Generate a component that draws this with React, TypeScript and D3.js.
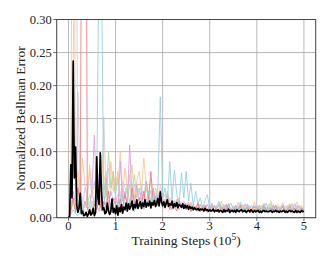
import * as d3 from "d3";

// logging steps for the per-seed curves, in thousands of env steps
const steps = [
  0, 5, 10, 15, 20, 25, 30, 35, 40, 45, 50, 55, 60, 65, 70, 75, 80, 85, 90, 95,
  100, 105, 110, 115, 120, 125, 130, 135, 140, 145, 150, 155, 160, 165, 170, 175, 180, 185, 190, 195,
  200, 205, 210, 215, 220, 225, 230, 235, 240, 245, 250, 255, 260, 265, 270, 275, 280, 285, 290, 295,
  300, 305, 310, 315, 320, 325, 330, 335, 340, 345, 350, 355, 360, 365, 370, 375, 380, 385, 390, 395,
  400, 405, 410, 415, 420, 425, 430, 435, 440, 445, 450, 455, 460, 465, 470, 475, 480, 485, 490, 495, 500,
];

// mean curve is logged twice as often
const meanSteps = [
  0, 2.5, 5, 7.5, 10, 12.5, 15, 17.5, 20, 22.5, 25, 27.5, 30, 32.5, 35, 37.5, 40, 42.5, 45, 47.5,
  50, 52.5, 55, 57.5, 60, 62.5, 65, 67.5, 70, 72.5, 75, 77.5, 80, 82.5, 85, 87.5, 90, 92.5, 95, 97.5,
  100, 102.5, 105, 107.5, 110, 112.5, 115, 117.5, 120, 122.5, 125, 127.5, 130, 132.5, 135, 137.5, 140, 142.5, 145, 147.5,
  150, 152.5, 155, 157.5, 160, 162.5, 165, 167.5, 170, 172.5, 175, 177.5, 180, 182.5, 185, 187.5, 190, 192.5, 195, 197.5,
  200, 202.5, 205, 207.5, 210, 212.5, 215, 217.5, 220, 222.5, 225, 227.5, 230, 232.5, 235, 237.5, 240, 242.5, 245, 247.5,
  250, 252.5, 255, 257.5, 260, 262.5, 265, 267.5, 270, 272.5, 275, 277.5, 280, 282.5, 285, 287.5, 290, 292.5, 295, 297.5,
  300, 302.5, 305, 307.5, 310, 312.5, 315, 317.5, 320, 322.5, 325, 327.5, 330, 332.5, 335, 337.5, 340, 342.5, 345, 347.5,
  350, 352.5, 355, 357.5, 360, 362.5, 365, 367.5, 370, 372.5, 375, 377.5, 380, 382.5, 385, 387.5, 390, 392.5, 395, 397.5,
  400, 402.5, 405, 407.5, 410, 412.5, 415, 417.5, 420, 422.5, 425, 427.5, 430, 432.5, 435, 437.5, 440, 442.5, 445, 447.5,
  450, 452.5, 455, 457.5, 460, 462.5, 465, 467.5, 470, 472.5, 475, 477.5, 480, 482.5, 485, 487.5, 490, 492.5, 495, 497.5, 500,
];

// per-seed normalized bellman error, in units of 1e-3
const seedLavender = [
  0, 40, 150, 800, 30, 60, 20, 45, 35, 70,
  30, 55, 25, 65, 40, 50, 35, 75, 45, 60,
  40, 70, 30, 55, 45, 35, 65, 25, 50, 40,
  35, 50, 28, 45, 32, 40, 25, 38, 30, 42,
  28, 35, 22, 30, 25, 20, 28, 18, 24, 20,
  22, 16, 20, 14, 18, 15, 21, 12, 17, 14,
  16, 12, 19, 10, 15, 18, 11, 14, 20, 13,
  15, 11, 18, 13, 9, 16, 19, 12, 14, 17,
  12, 15, 10, 18, 14, 11, 16, 20, 13, 9,
  15, 12, 18, 14, 10, 17, 13, 19, 11, 15, 13,
];
const seedGrey = [
  0, 20, 30, 25, 190, 40, 10, 25, 20, 35,
  15, 30, 20, 45, 25, 153, 30, 15, 40, 70,
  25, 35, 20, 45, 30, 25, 50, 20, 35, 28,
  22, 38, 18, 30, 25, 42, 20, 32, 26, 35,
  20, 28, 16, 24, 19, 26, 14, 22, 17, 20,
  15, 21, 12, 18, 16, 13, 19, 11, 17, 14,
  12, 17, 10, 15, 19, 11, 14, 9, 16, 13,
  18, 10, 15, 12, 20, 9, 14, 17, 11, 16,
  13, 18, 9, 15, 11, 20, 12, 16, 10, 14,
  17, 11, 14, 19, 9, 15, 12, 18, 13, 10, 16,
];
const seedGreen = [
  0, 10, 25, 12, 30, 8, 20, 15, 35, 10,
  25, 18, 40, 22, 15, 55, 30, 100, 45, 70,
  35, 60, 25, 45, 30, 50, 20, 40, 65, 30,
  45, 25, 35, 55, 20, 30, 40, 18, 28, 22,
  25, 18, 30, 14, 22, 16, 26, 12, 20, 15,
  18, 11, 22, 14, 16, 9, 20, 13, 17, 10,
  15, 19, 9, 14, 21, 11, 16, 8, 18, 13,
  10, 17, 13, 20, 9, 15, 12, 18, 11, 16,
  14, 8, 19, 12, 16, 10, 21, 13, 9, 17,
  12, 18, 10, 15, 20, 11, 14, 9, 19, 13, 16,
];
const seedPeach = [
  0, 60, 900, 40, 70, 25, 90, 50, 30, 80,
  45, 20, 60, 35, 95, 55, 70, 30, 85, 40,
  65, 50, 100, 35, 75, 45, 60, 80, 30, 55,
  70, 40, 90, 50, 35, 60, 25, 45, 30, 50,
  35, 20, 40, 25, 30, 18, 28, 22, 15, 25,
  20, 12, 24, 16, 10, 22, 14, 18, 11, 20,
  15, 22, 10, 18, 13, 25, 9, 17, 20, 12,
  18, 10, 23, 14, 19, 8, 21, 15, 12, 24,
  11, 19, 14, 22, 9, 17, 25, 12, 16, 20,
  14, 23, 10, 18, 21, 13, 16, 24, 11, 19, 15,
];
const seedPink = [
  0, 15, 40, 20, 10, 30, 8, 25, 12, 18,
  45, 125, 20, 10, 35, 15, 60, 20, 40, 25,
  30, 15, 85, 25, 40, 20, 110, 35, 18, 50,
  25, 40, 15, 55, 30, 20, 45, 18, 35, 22,
  28, 15, 35, 20, 12, 25, 18, 30, 14, 22,
  16, 24, 10, 19, 13, 22, 9, 17, 14, 20,
  11, 18, 8, 15, 20, 10, 16, 13, 22, 9,
  14, 19, 10, 16, 8, 21, 12, 15, 18, 10,
  17, 9, 13, 20, 11, 15, 8, 18, 12, 14,
  10, 19, 13, 8, 16, 21, 11, 14, 17, 9, 13,
];
const seedRed = [
  0, 10, 30, 8, 45, 20, 900, 1200, 15, 5,
  8, 20, 12, 35, 10, 25, 15, 40, 12, 30,
  18, 10, 28, 15, 35, 20, 12, 45, 25, 18,
  30, 22, 40, 15, 28, 70, 20, 32, 18, 25,
  20, 14, 26, 12, 22, 16, 10, 24, 14, 18,
  12, 20, 9, 16, 13, 22, 10, 15, 19, 8,
  14, 9, 18, 11, 7, 16, 12, 20, 10, 13,
  8, 15, 11, 19, 9, 13, 16, 7, 12, 18,
  10, 14, 8, 17, 12, 9, 15, 11, 19, 8,
  13, 16, 10, 12, 18, 9, 14, 11, 7, 15, 12,
];
const seedBlue = [
  0, 5, 12, 6, 3, 8, 15, 4, 10, 6,
  12, 25, 40, 420, 380, 30, 18, 9, 22, 14,
  10, 26, 15, 34, 20, 12, 28, 18, 9, 24,
  16, 30, 12, 22, 40, 18, 35, 25, 48, 183,
  30, 45, 22, 85, 28, 72, 35, 20, 68, 30,
  70, 25, 52, 18, 40, 22, 30, 15, 26, 35,
  14, 22, 10, 18, 25, 12, 20, 8, 16, 22,
  12, 18, 9, 24, 14, 10, 20, 13, 8, 17,
  11, 19, 7, 15, 22, 10, 14, 18, 9, 16,
  12, 20, 8, 14, 17, 10, 21, 13, 9, 15, 11,
];
// mean over seeds, 1e-3
const meanErr = [
  0, 2, 80, 30, 237, 60, 107, 20, 8, 15,
  37, 6, 10, 3, 4, 8, 2, 6, 12, 4,
  6, 14, 3, 8, 92, 30, 20, 98, 40, 12,
  15, 6, 8, 22, 10, 5, 10, 28, 8, 14,
  6, 18, 4, 15, 9, 20, 7, 16, 12, 22,
  10, 21, 13, 17, 25, 12, 20, 15, 27, 14,
  19, 24, 14, 22, 17, 27, 16, 22, 18, 25,
  15, 23, 19, 26, 17, 22, 29, 18, 39, 24,
  18, 24, 16, 22, 27, 17, 21, 19, 25, 15,
  21, 17, 23, 15, 20, 18, 16, 21, 14, 19,
  15, 18, 13, 17, 14, 16, 12, 15, 13, 12,
  14, 11, 13, 12, 13, 10, 14, 11, 12, 10,
  12, 10, 11, 13, 9, 11, 10, 12, 9, 11,
  10, 8, 12, 9, 11, 10, 13, 8, 10, 11,
  9, 11, 8, 12, 10, 9, 11, 12, 9, 10,
  11, 8, 10, 11, 9, 12, 10, 8, 11, 9,
  10, 11, 8, 10, 8, 10, 11, 9, 10, 9,
  9, 10, 11, 8, 10, 9, 11, 9, 10, 8,
  10, 9, 10, 11, 8, 10, 8, 10, 11, 9,
  10, 9, 8, 11, 8, 10, 9, 8, 11, 9, 10,
];

const seeds = [
  { values: seedLavender, color: "#d3c5ef" },
  { values: seedGrey, color: "#cdcdcd" },
  { values: seedGreen, color: "#a4de96" },
  { values: seedPeach, color: "#f7c592" },
  { values: seedPink, color: "#e29bda" },
  { values: seedRed, color: "#ef7a7a" },
  { values: seedBlue, color: "#92cee2" },
];

const xTicks = [0, 1, 2, 3, 4, 5];
const yTicks = [0, 0.05, 0.1, 0.15, 0.2, 0.25, 0.3];

const W = 332;
const H = 267;
const margin = { top: 19.5, right: 16.3, bottom: 49.3, left: 56.7 };
const font = "'Liberation Serif', 'DejaVu Serif', serif";

export default function App() {
  const x = d3.scaleLinear().domain([-0.25, 5.25]).range([margin.left, W - margin.right]);
  const y = d3.scaleLinear().domain([0, 0.3]).range([H - margin.bottom, margin.top]);

  const toPoints = (xs: number[], vals: number[]) =>
    vals.map((v, i) => [xs[i] / 100, v / 1000] as [number, number]);
  const line = d3.line<[number, number]>().x(d => x(d[0])).y(d => y(d[1]));

  const [left, right] = x.range();
  const top = y.range()[1];
  const bottom = y.range()[0];

  return (
    <svg
      width={W}
      height={H}
      style={{ position: "absolute", left: 0, top: 0, background: "#fff", fontFamily: font }}
    >
      <defs>
        <clipPath id="plot">
          <rect x={left} y={top} width={right - left} height={bottom - top} />
        </clipPath>
      </defs>

      {/* grid */}
      <g stroke="#a8a8a8" strokeWidth={0.8}>
        {xTicks.map(t => <line key={"gx" + t} x1={x(t)} x2={x(t)} y1={top} y2={bottom} />)}
        {yTicks.map(t => <line key={"gy" + t} x1={left} x2={right} y1={y(t)} y2={y(t)} />)}
      </g>

      <g clipPath="url(#plot)" fill="none">
        {seeds.map((s, i) => (
          <path key={i} d={line(toPoints(steps, s.values)) ?? ""} stroke={s.color} strokeWidth={1} strokeOpacity={0.85} />
        ))}
        <path d={line(toPoints(meanSteps, meanErr)) ?? ""} stroke="#000" strokeWidth={1.7} strokeLinejoin="round" />
      </g>

      {/* frame */}
      <rect x={left} y={top} width={right - left} height={bottom - top} fill="none" stroke="#444" strokeWidth={1} />

      {/* x axis */}
      <g fontSize={12.5} fill="#222" textAnchor="middle">
        {xTicks.map(t => (
          <g key={"xt" + t}>
            <line x1={x(t)} x2={x(t)} y1={bottom} y2={bottom + 3.5} stroke="#444" strokeWidth={0.8} />
            <text x={x(t)} y={bottom + 12.5}>{t}</text>
          </g>
        ))}
      </g>
      <text x={(left + right) / 2} y={244.5} fontSize={13.5} fill="#222" textAnchor="middle">
        Training Steps (10<tspan dy={-5} fontSize={9.5}>5</tspan><tspan dy={5}>)</tspan>
      </text>

      {/* y axis */}
      <g fontSize={12.5} fill="#222" textAnchor="end">
        {yTicks.map(t => (
          <g key={"yt" + t}>
            <line x1={left - 3.5} x2={left} y1={y(t)} y2={y(t)} stroke="#444" strokeWidth={0.8} />
            <text x={left - 5} y={y(t)} dy="0.35em">{d3.format(".2f")(t)}</text>
          </g>
        ))}
      </g>
      <text
        transform={`translate(25,${(top + bottom) / 2}) rotate(-90)`}
        fontSize={13.5}
        fill="#222"
        textAnchor="middle"
      >
        Normalized Bellman Error
      </text>
    </svg>
  );
}
